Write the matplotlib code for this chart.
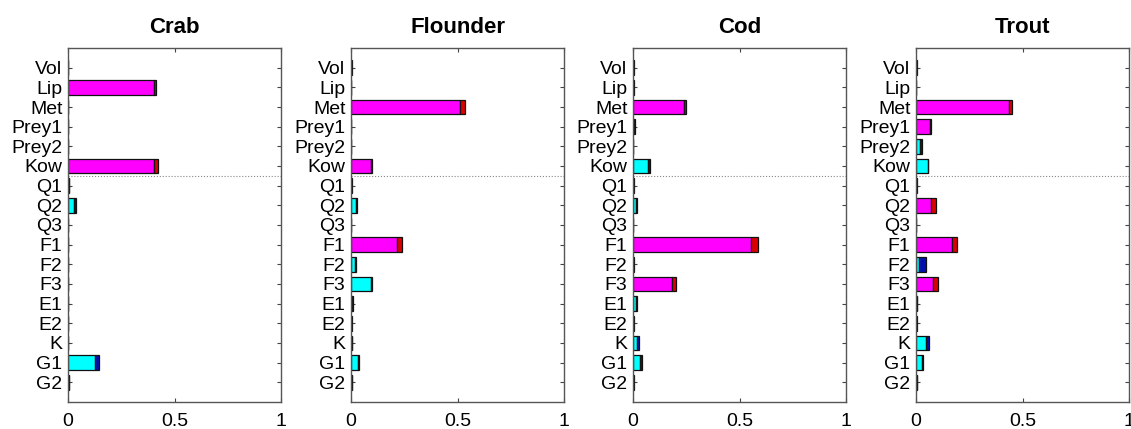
import matplotlib
matplotlib.use("Agg")
import matplotlib.pyplot as plt
import numpy as np

plt.rcParams['font.family'] = ['Liberation Sans', 'DejaVu Sans']

labels = ["Vol", "Lip", "Met", "Prey1", "Prey2", "Kow", "Q1", "Q2", "Q3",
          "F1", "F2", "F3", "E1", "E2", "K", "G1", "G2"]
species = ["Crab", "Flounder", "Cod", "Trout"]

# main contribution per parameter, sign: +1 magenta, -1 cyan
crab_main = [0, 0.405, 0, 0, 0, 0.406, 0.003, 0.030, 0, 0, 0, 0, 0, 0, 0, 0.127, 0.003]
crab_extra = [0, 0.007, 0, 0, 0, 0.017, 0.002, 0.008, 0, 0, 0, 0, 0, 0, 0, 0.020, 0.002]
crab_sign = [1, 1, 1, 1, 1, 1, 1, -1, 1, 1, 1, 1, 1, 1, 1, -1, -1]

flounder_main = [0.002, 0, 0.510, 0, 0, 0.095, 0.002, 0.023, 0, 0.215, 0.020, 0.094, 0.005, 0.002, 0.003, 0.033, 0.003]
flounder_extra = [0.002, 0, 0.023, 0, 0, 0.004, 0.002, 0.003, 0, 0.023, 0.003, 0.004, 0.003, 0.001, 0.003, 0.005, 0.002]
flounder_sign = [-1, 1, 1, 1, 1, 1, -1, -1, 1, 1, -1, -1, -1, -1, -1, -1, -1]

cod_main = [0.002, 0.002, 0.238, 0.005, 0, 0.070, 0.002, 0.016, 0, 0.553, 0.002, 0.185, 0.014, 0.002, 0.020, 0.035, 0.002]
cod_extra = [0.001, 0.001, 0.012, 0.005, 0, 0.009, 0.001, 0.003, 0, 0.034, 0.001, 0.018, 0.003, 0.003, 0.008, 0.005, 0.002]
cod_sign = [-1, -1, 1, -1, 1, -1, -1, -1, 1, 1, -1, 1, -1, -1, -1, -1, -1]

trout_main = [0.002, 0.001, 0.436, 0.067, 0.020, 0.055, 0.002, 0.069, 0, 0.167, 0.016, 0.081, 0.004, 0.002, 0.047, 0.026, 0.003]
trout_extra = [0.001, 0.001, 0.016, 0.003, 0.010, 0.003, 0.001, 0.023, 0, 0.025, 0.029, 0.022, 0.003, 0.001, 0.015, 0.008, 0.002]
trout_sign = [-1, -1, 1, 1, -1, -1, -1, 1, 1, 1, -1, 1, -1, -1, -1, -1, -1]

data = [(crab_main, crab_extra, crab_sign),
        (flounder_main, flounder_extra, flounder_sign),
        (cod_main, cod_extra, cod_sign),
        (trout_main, trout_extra, trout_sign)]

fig = plt.figure(figsize=(11.31, 4.29), dpi=100)
lefts = [68, 351, 633, 916]
ypos = np.arange(1, len(labels) + 1)

for name, left, (main, extra, sign) in zip(species, lefts, data):
    ax = fig.add_axes([left / 1131, 27 / 429, 213 / 1131, 354 / 429])
    main = np.array(main)
    extra = np.array(extra)
    sign = np.array(sign)
    main_col = np.where(sign > 0, '#ff00ff', '#00ffff')
    extra_col = np.where(sign > 0, '#dd0000', '#0010b0')
    ax.axhline(6.5, color='#888888', lw=0.8, ls=':', zorder=1)
    ax.barh(ypos, main, height=0.75, color=main_col, edgecolor='#111111', lw=0.9, zorder=2)
    ax.barh(ypos, extra, left=main, height=0.75, color=extra_col, edgecolor='#111111', lw=0.9, zorder=2)
    ax.set_xlim(0, 1)
    ax.set_ylim(18, 0)
    ax.set_yticks(ypos)
    ax.set_yticklabels(labels, fontsize=14)
    ax.set_xticks([0, 0.5, 1])
    ax.set_xticklabels(["0", "0.5", "1"], fontsize=14)
    ax.tick_params(axis='both', direction='in', length=3, top=True, right=True,
                   color='#444444')
    ax.tick_params(axis='y', pad=4)
    ax.tick_params(axis='x', pad=8)
    for s in ax.spines.values():
        s.set_color('#555555')
        s.set_linewidth(1.0)
    ax.set_title(name, fontsize=16, fontweight='bold', pad=11)

fig.savefig("out.png", dpi=100)
